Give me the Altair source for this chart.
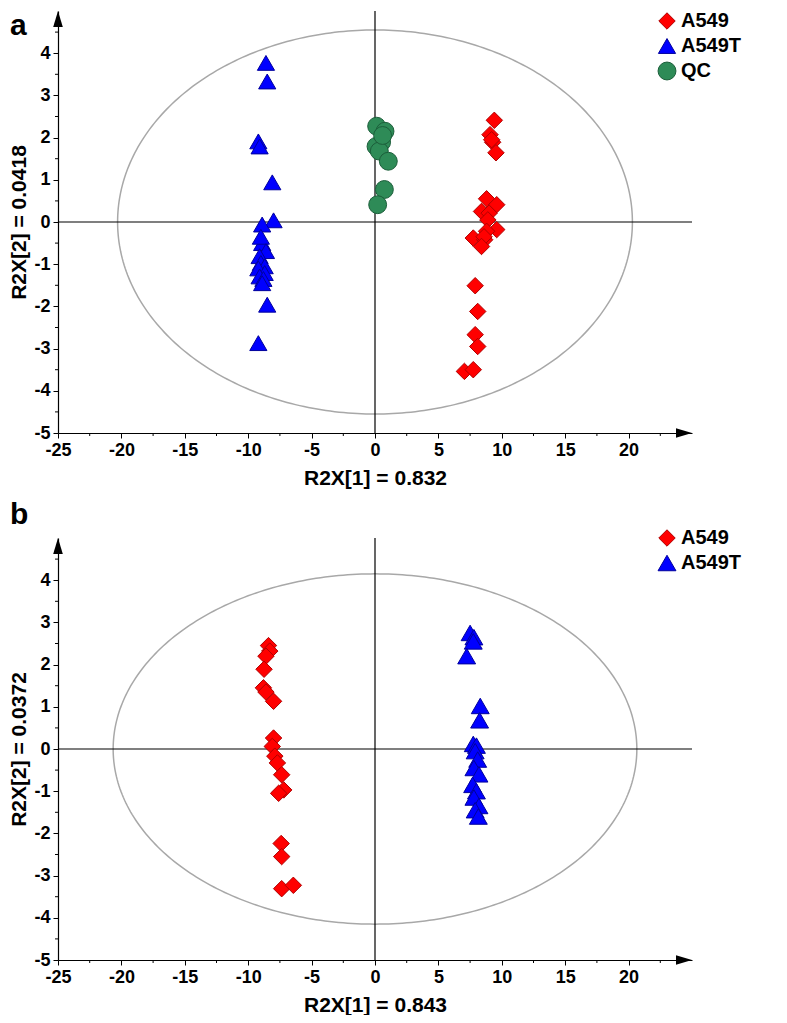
import altair as alt
import numpy as np
import pandas as pd

FONT = "Liberation Sans"

# ---------------- Panel a data ----------------
a_a549_x = [9.41, 9.07, 9.28, 9.54, 9.2, 8.8, 9.6, 8.4, 9.0, 8.9, 9.6, 8.8, 7.75, 8.65, 8.6, 8.4, 7.9, 8.1, 7.9, 8.1, 7.05, 7.75]
a_a549_y = [2.41, 2.07, 1.89, 1.64, 1.95, 0.55, 0.41, 0.25, 0.21, 0.05, -0.18, -0.22, -0.38, -0.42, -0.35, -0.58, -1.51, -2.12, -2.67, -2.95, -3.54, -3.5]
a_a549t_x = [-8.6, -8.5, -9.2, -9.1, -8.1, -8.0, -8.9, -8.9, -9.0, -8.6, -9.1, -9.0, -8.7, -9.2, -8.7, -9.1, -8.8, -8.9, -8.5, -9.2]
a_a549t_y = [3.77, 3.33, 1.91, 1.79, 0.94, 0.04, -0.06, -0.5, -0.35, -0.69, -0.81, -0.97, -1.05, -1.1, -1.21, -1.29, -1.35, -1.45, -1.96, -2.87]
a_qc_x = [0.13, 0.79, 0.52, 0.08, 0.34, 1.05, 0.74, 0.21, 0.6]
a_qc_y = [2.27, 2.15, 1.89, 1.79, 1.68, 1.44, 0.77, 0.41, 2.05]

# ---------------- Panel b data ----------------
b_a549_x = [-8.4, -8.3, -8.6, -8.75, -8.8, -8.6, -8.0, -8.0, -8.1, -7.9, -7.7, -7.36, -7.2, -7.6, -7.4, -7.36, -7.36, -6.44]
b_a549_y = [2.45, 2.32, 2.2, 1.89, 1.45, 1.35, 1.13, 0.26, 0.06, -0.17, -0.33, -0.61, -0.97, -1.05, -2.24, -2.55, -3.31, -3.23]
b_a549t_x = [7.5, 7.8, 7.75, 7.23, 8.3, 8.25, 7.75, 8.0, 7.9, 8.1, 7.8, 8.2, 7.7, 8.0, 7.8, 8.2, 7.9, 8.15]
b_a549t_y = [2.75, 2.65, 2.55, 2.2, 1.02, 0.68, 0.12, 0.08, -0.05, -0.25, -0.45, -0.6, -0.85, -1.0, -1.15, -1.35, -1.45, -1.6]

# axis ticks / labels
x_major = [-25, -20, -15, -10, -5, 0, 5, 10, 15, 20]
x_minor = [-22.5, -17.5, -12.5, -7.5, -2.5, 2.5, 7.5, 12.5, 17.5, 22.5]
y_major = [-5, -4, -3, -2, -1, 0, 1, 2, 3, 4]
y_minor = [-4.5, -3.5, -2.5, -1.5, -0.5, 0.5, 1.5, 2.5, 3.5, 4.5]
x_domain = [-25, 25]
y_domain = [-5, 5]

# Hotelling ellipse semi-axes
a_rx, a_ry = 20.3, 4.55
b_rx, b_ry = 20.65, 4.15

groups = ["A549", "A549T", "QC"]
fills = ["#ff0000", "#0000ff", "#2e8b57"]
strokes = ["#b00000", "#00009c", "#1c5e3a"]
shapes = ["diamond", "triangle-up", "circle"]
sizes = [270, 320, 250]

W, H = 634, 422


def panel(series, rx, ry, xtitle, ytitle, letter, letter_y, legend_y, n_groups):
    rows = []
    for g, xs_, ys_ in series:
        for x, y in zip(xs_, ys_):
            rows.append({"x": x, "y": y, "group": g})
    pts = pd.DataFrame(rows)
    t = np.linspace(0, 2 * np.pi, 361)
    ell = pd.DataFrame({"x": rx * np.cos(t), "y": ry * np.sin(t), "i": np.arange(len(t))})
    one = pd.DataFrame({"d": [0]})
    xmin_df = pd.DataFrame({"x": x_minor})
    ymin_df = pd.DataFrame({"y": y_minor})

    xs = alt.Scale(domain=x_domain, nice=False, zero=False)
    ys = alt.Scale(domain=y_domain, nice=False, zero=False)
    common = dict(grid=False, domainColor="black", tickColor="black", domainWidth=1.2, tickWidth=1,
                  tickSize=5, labelFont=FONT, labelFontSize=18, labelFontWeight="bold",
                  labelColor="black", labelPadding=3, labelOverlap=False, labelFlush=False,
                  titleFont=FONT, titleFontSize=21, titleFontWeight="bold", titleColor="black")
    xaxis = alt.Axis(values=x_major, labelExpr="'' + datum.value", title=xtitle, titlePadding=8, **common)
    yaxis = alt.Axis(values=y_major, labelExpr="'' + datum.value", title=ytitle, titlePadding=4, **common)

    ellipse = alt.Chart(ell).mark_line(color="#a8a8a8", strokeWidth=1.5).encode(
        x=alt.X("x:Q", scale=xs, axis=xaxis),
        y=alt.Y("y:Q", scale=ys, axis=yaxis),
        order="i:Q",
    )
    vrule = alt.Chart(one).mark_rule(color="black", strokeWidth=1.2).encode(x=alt.XDatum(0))
    hrule = alt.Chart(one).mark_rule(color="black", strokeWidth=1.2).encode(y=alt.YDatum(0))

    xminor = alt.Chart(xmin_df).mark_tick(
        orient="vertical", size=3, thickness=1, color="black", opacity=1, yOffset=1.5
    ).encode(x=alt.X("x:Q"), y=alt.YDatum(y_domain[0]))
    yminor = alt.Chart(ymin_df).mark_tick(
        orient="horizontal", size=3, thickness=1, color="black", opacity=1, xOffset=-1.5
    ).encode(y=alt.Y("y:Q"), x=alt.XDatum(x_domain[0]))

    dom = groups[:n_groups]
    leg = alt.Legend(orient="none", legendX=W - 35, legendY=legend_y, title=None,
                     labelFont=FONT, labelFontSize=20, labelFontWeight="bold", labelColor="black",
                     symbolSize=290, rowPadding=4, padding=0, labelOffset=4, symbolStrokeWidth=1)
    points = alt.Chart(pts).mark_point(filled=True, opacity=1, strokeWidth=1).encode(
        x=alt.X("x:Q"),
        y=alt.Y("y:Q"),
        color=alt.Color("group:N", scale=alt.Scale(domain=dom, range=fills[:n_groups]), legend=leg),
        shape=alt.Shape("group:N", scale=alt.Scale(domain=dom, range=shapes[:n_groups]), legend=leg),
        stroke=alt.Stroke("group:N", scale=alt.Scale(domain=dom, range=strokes[:n_groups]), legend=leg),
        size=alt.Size("group:N", scale=alt.Scale(domain=dom, range=sizes[:n_groups]), legend=None),
    )
    xarrow = alt.Chart(one).mark_point(
        shape="M-1,-0.6L1,0L-1,0.6Z", filled=True, color="black", opacity=1, size=256, xOffset=-8
    ).encode(x=alt.XDatum(x_domain[1]), y=alt.YDatum(y_domain[0]))
    yarrow = alt.Chart(one).mark_point(
        shape="M-0.6,1L0,-1L0.6,1Z", filled=True, color="black", opacity=1, size=256, yOffset=8
    ).encode(x=alt.XDatum(x_domain[0]), y=alt.YDatum(y_domain[1]))
    label = alt.Chart(one).mark_text(
        text=letter, font=FONT, fontSize=30, fontWeight="bold", align="left", baseline="top", color="black"
    ).encode(x=alt.value(-48), y=alt.value(letter_y))

    return alt.layer(ellipse, vrule, hrule, xminor, yminor, points, xarrow, yarrow, label).properties(
        width=W, height=H)


pa = panel([("A549", a_a549_x, a_a549_y), ("A549T", a_a549t_x, a_a549t_y), ("QC", a_qc_x, a_qc_y)],
           a_rx, a_ry, "R2X[1] = 0.832", "R2X[2] = 0.0418", "a", 0, 0, 3)
pb = panel([("A549", b_a549_x, b_a549_y), ("A549T", b_a549t_x, b_a549t_y)],
           b_rx, b_ry, "R2X[1] = 0.843", "R2X[2] = 0.0372", "b", -38, -10, 2)

chart = alt.vconcat(pa, pb, spacing=12).resolve_scale(
    color="independent", shape="independent", stroke="independent", size="independent"
).resolve_legend(color="independent", shape="independent", stroke="independent").properties(
    padding={"left": 0, "top": 2, "right": 0, "bottom": 0}
).configure_view(stroke=None)

chart.save("out.html", embed_options={"renderer": "svg", "actions": False})
